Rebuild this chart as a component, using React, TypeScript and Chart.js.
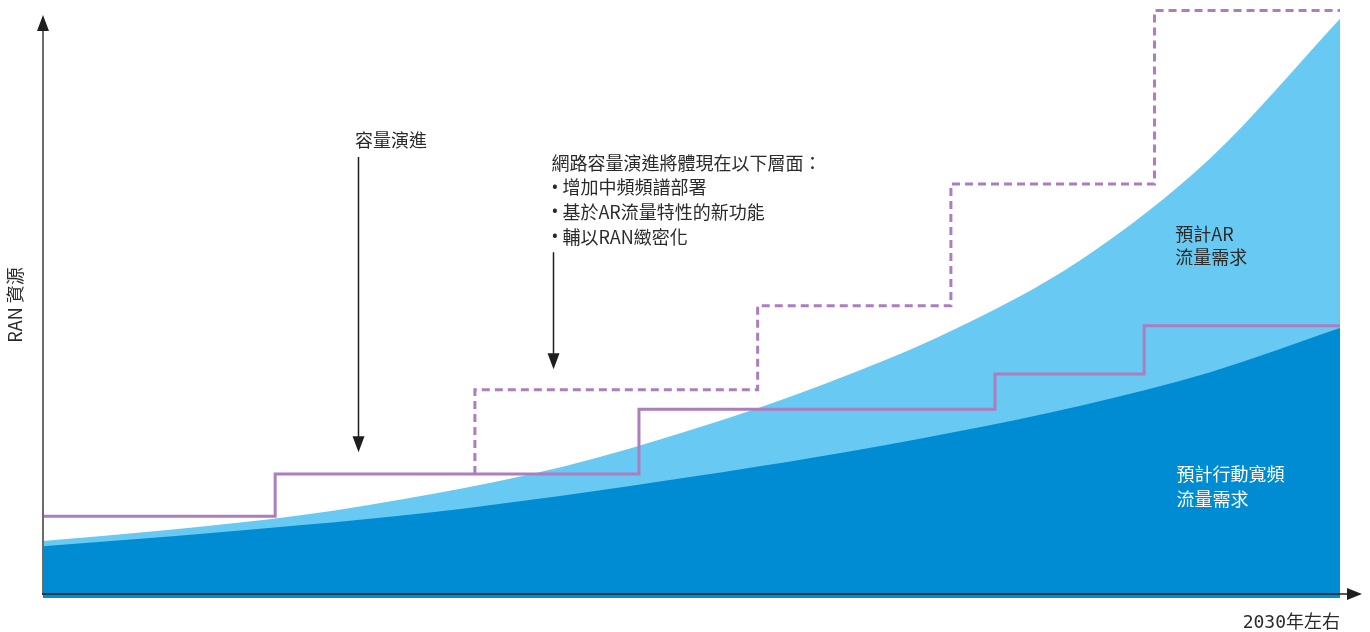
import React, { useEffect, useRef } from "react";
import { Chart, registerables } from "chart.js";

Chart.register(...registerables);

// Horizontal axis: progress from today (0) to around 2030 (100); vertical axis: relative RAN resource / traffic units
const timeSteps = [0, 10, 20, 30, 40, 50, 60, 70, 80, 90, 100];
const mobileDemand = [8.8, 10.5, 12.4, 14.6, 17.4, 20.6, 24.1, 28.1, 32.7, 38.4, 45.9];
const arDemand = [9.7, 11.65, 14.1, 17.7, 22.3, 28.6, 36.2, 45.4, 57.5, 74.8, 98.5];

const capacityX = [0, 17.9, 45.95, 73.4, 84.9, 100];
const capacityY = [13.9, 21.1, 32.1, 38.1, 46.3, 46.3];

const evolvedX = [33.3, 33.3, 55.1, 70.0, 85.7, 100];
const evolvedY = [21.1, 35.4, 49.7, 70.4, 99.9, 99.9];

const yAxisTitle = "RAN 資源";
const xAxisTitle = "2030年左右";
const note1 = "容量演進";
const note2Title = "網路容量演進將體現在以下層面：";
const note2Bullets = ["增加中頻頻譜部署", "基於AR流量特性的新功能", "輔以RAN緻密化"];
const arLabel = ["預計AR", "流量需求"];
const mobileLabel = ["預計行動寬頻", "流量需求"];

// annotation anchors in data units
const note1Pos = { x: 24.05, y: 77.9 };
const arrow1 = { x: 24.3, from: 75.0, to: 24.8 };
const note2Pos = { x: 39.2, y: 74.0, step: 4.2 };
const arrow2 = { x: 39.3, from: 58.8, to: 38.9 };
const arLabelPos = { x: 87.3, y: 61.9, step: 3.95 };
const mobileLabelPos = { x: 87.4, y: 21.0, step: 4.25 };

const pts = (xs: number[], ys: number[]) => xs.map((x, i) => ({ x, y: ys[i] }));

const CJK = '"Noto Sans CJK TC", "Noto Sans", sans-serif';
const LATIN = '"Noto Sans", sans-serif';
const INK = "#2a2a2a";

function head(ctx: CanvasRenderingContext2D, tx: number, ty: number, dir: "up" | "down" | "right", len: number, hw: number) {
  ctx.beginPath();
  ctx.moveTo(tx, ty);
  if (dir === "up") {
    ctx.lineTo(tx - hw, ty + len);
    ctx.lineTo(tx + hw, ty + len);
  } else if (dir === "down") {
    ctx.lineTo(tx - hw, ty - len);
    ctx.lineTo(tx + hw, ty - len);
  } else {
    ctx.lineTo(tx - len, ty - hw);
    ctx.lineTo(tx - len, ty + hw);
  }
  ctx.closePath();
  ctx.fill();
}

const overlay = {
  id: "overlay",
  afterDatasetsDraw(chart: any) {
    const { ctx, chartArea: a, scales } = chart;
    const xs = scales.x;
    const ys = scales.y;
    ctx.save();

    // y axis
    ctx.strokeStyle = "#6b6b6b";
    ctx.lineWidth = 2;
    ctx.beginPath();
    ctx.moveTo(a.left, a.bottom - 3);
    ctx.lineTo(a.left, 30);
    ctx.stroke();
    ctx.fillStyle = "#1e1e1e";
    head(ctx, a.left, 15, "up", 16, 6);

    // x axis
    ctx.strokeStyle = "#1e1e1e";
    ctx.lineWidth = 1.5;
    ctx.beginPath();
    ctx.moveTo(a.left - 1, a.bottom - 4);
    ctx.lineTo(1350, a.bottom - 4);
    ctx.stroke();
    head(ctx, 1362, a.bottom - 4, "right", 15, 6);

    // annotation arrows
    ctx.lineWidth = 1.5;
    const drawArrow = (ar: { x: number; from: number; to: number }) => {
      const px = Math.round(xs.getPixelForValue(ar.x)) + 0.5;
      const y0 = ys.getPixelForValue(ar.from);
      const y1 = ys.getPixelForValue(ar.to);
      ctx.beginPath();
      ctx.moveTo(px, y0);
      ctx.lineTo(px, y1 - 10);
      ctx.stroke();
      head(ctx, px, y1, "down", 16, 6);
    };
    drawArrow(arrow1);
    drawArrow(arrow2);

    // texts
    ctx.textBaseline = "middle";
    ctx.textAlign = "left";
    ctx.fillStyle = INK;
    ctx.font = `18px ${CJK}`;
    ctx.fillText(note1, xs.getPixelForValue(note1Pos.x), ys.getPixelForValue(note1Pos.y));
    const nx = xs.getPixelForValue(note2Pos.x);
    ctx.fillText(note2Title, nx, ys.getPixelForValue(note2Pos.y));
    note2Bullets.forEach((t, i) => {
      const py = ys.getPixelForValue(note2Pos.y - (i + 1) * note2Pos.step);
      ctx.font = `18px ${LATIN}`;
      ctx.fillText("•", nx, py);
      ctx.font = `18px ${CJK}`;
      ctx.fillText(t, nx + 11, py);
    });
    ctx.font = `18px ${CJK}`;
    arLabel.forEach((t, i) => {
      ctx.fillText(t, xs.getPixelForValue(arLabelPos.x), ys.getPixelForValue(arLabelPos.y - i * arLabelPos.step));
    });
    ctx.fillStyle = "#ffffff";
    mobileLabel.forEach((t, i) => {
      ctx.fillText(t, xs.getPixelForValue(mobileLabelPos.x), ys.getPixelForValue(mobileLabelPos.y - i * mobileLabelPos.step));
    });

    // axis titles
    ctx.fillStyle = INK;
    ctx.font = `18px "DejaVu Sans Mono", ${CJK}`;
    ctx.textAlign = "right";
    ctx.fillText(xAxisTitle, 1340, 623);

    ctx.save();
    ctx.translate(15, 305);
    ctx.rotate(-Math.PI / 2);
    ctx.textAlign = "center";
    ctx.font = `18px ${CJK}`;
    ctx.fillText(yAxisTitle, 0, 0);
    ctx.restore();

    ctx.restore();
  },
};

export default function App() {
  const ref = useRef<HTMLCanvasElement | null>(null);

  useEffect(() => {
    if (!ref.current) return;
    const chart = new Chart(ref.current, {
      type: "line",
      data: {
        datasets: [
          {
            label: "capacity",
            data: pts(capacityX, capacityY),
            borderColor: "#AC7DBF",
            borderWidth: 3,
            stepped: "before",
            pointRadius: 0,
            fill: false,
            order: 1,
            clip: false as any,
          },
          {
            label: "evolved",
            data: pts(evolvedX, evolvedY),
            borderColor: "#AC7DBF",
            borderWidth: 3,
            borderDash: [8, 5],
            stepped: "before",
            pointRadius: 0,
            fill: false,
            order: 0,
            clip: false as any,
          },
          {
            label: "mobile",
            data: pts(timeSteps, mobileDemand),
            borderWidth: 0,
            borderColor: "rgba(0,0,0,0)",
            backgroundColor: "#008CD3",
            fill: "origin",
            cubicInterpolationMode: "monotone",
            pointRadius: 0,
            order: 2,
          },
          {
            label: "ar",
            data: pts(timeSteps, arDemand),
            borderWidth: 0,
            borderColor: "rgba(0,0,0,0)",
            backgroundColor: "#68C9F2",
            fill: "origin",
            cubicInterpolationMode: "monotone",
            pointRadius: 0,
            order: 3,
          },
        ],
      },
      options: {
        animation: false,
        responsive: false,
        devicePixelRatio: 1,
        layout: { padding: { left: 43, right: 30, top: 10, bottom: 34 } },
        plugins: { legend: { display: false }, tooltip: { enabled: false } },
        events: [],
        scales: {
          x: { type: "linear", min: 0, max: 100, display: false },
          y: { type: "linear", min: 0, max: 100, display: false },
        },
      },
      plugins: [overlay],
    });
    return () => chart.destroy();
  }, []);

  return (
    <div style={{ position: "fixed", left: 0, top: 0, width: 1370, height: 632, background: "#fff" }}>
      <canvas ref={ref} width={1370} height={632} style={{ display: "block" }} />
    </div>
  );
}
